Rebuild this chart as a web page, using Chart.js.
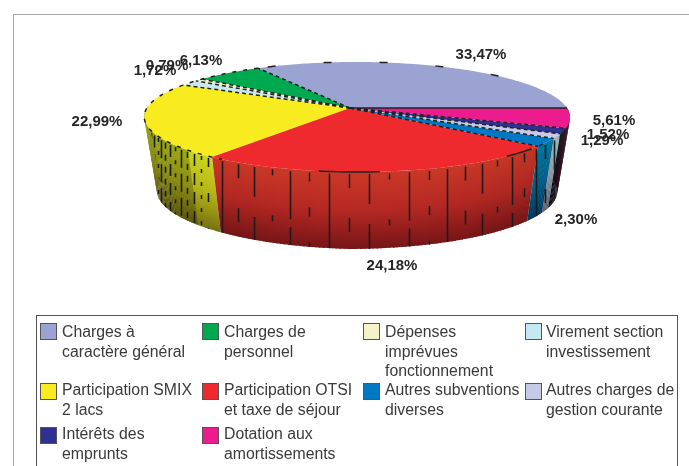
<!DOCTYPE html>
<html>
<head>
<meta charset="utf-8">
<script src="https://cdn.jsdelivr.net/npm/chart.js@4"></script>
<style>
html, body { margin: 0; padding: 0; background: #fff; overflow: hidden; }
#wrap { position: relative; width: 689px; height: 466px; overflow: hidden; }
#chart { position: absolute; left: 0; top: 0; }
.legend-box { position: absolute; left: 36px; top: 315px; width: 642px; height: 160px; border: 1px solid #555; box-sizing: border-box; }
.item { position: absolute; font: 15.8px/19.5px "Liberation Sans", Arial, sans-serif; color: #3a3a3a; white-space: nowrap; }
.swatch { position: absolute; width: 17px; height: 17px; border: 1px solid #555; box-sizing: border-box; }
</style>
</head>
<body>
<div id="wrap">
  <canvas id="chart" width="689" height="466"></canvas>
  <div id="legend"></div>
</div>
<script>
const categories = [
    ['Charges à', 'caractère général'],
    ['Charges de', 'personnel'],
    ['Dépenses', 'imprévues', 'fonctionnement'],
    ['Virement section', 'investissement'],
    ['Participation SMIX', '2 lacs'],
    ['Participation OTSI', 'et taxe de séjour'],
    ['Autres subventions', 'diverses'],
    ['Autres charges de', 'gestion courante'],
    ['Intérêts des', 'emprunts'],
    ['Dotation aux', 'amortissements']
];
const values = [33.47, 6.13, 0.79, 1.72, 22.99, 24.18, 2.30, 1.29, 1.52, 5.61];
const valueLabels = ['33,47%', '6,13%', '0,79%', '1,72%', '22,99%', '24,18%', '2,30%', '1,29%', '1,52%', '5,61%'];
const colors = ['#9aa3d2', '#00a94f', '#f5f3c8', '#c6e8f3', '#f8ec21', '#ee2a2e', '#0079c2', '#c6cae6', '#2e3192', '#ec1c8e'];

// where the percentage labels sit on the page (centre of the text)
const labelSpots = [[481, 55], [201, 61], [167, 66], [155, 71], [97, 122], [392, 266], [576, 220], [602, 141], [608, 135], [614, 121]];
// legend layout
const swatchCols = [40, 202, 363, 525];
const swatchRows = [323, 383, 427];
const textCols = [62, 224, 385, 546];
const textRows = [322, 380, 424];

// top face of the pie as seen in the picture: apex, perspective and radii
const cx = 350, cy = 108;
const a = 209.8, b = 53.5, kv = 0.1636, ku = 0.033;
const depth = 77, shrink = 0.94;

function project(r, ang) {
    const u = r * Math.cos(ang), v = -r * Math.sin(ang);
    const w = 1 - kv * v - ku * u;
    return { x: cx + a * u / w, y: cy + b * v / w };
}

function projectBottom(ang) {
    const p = project(1, ang);
    return { x: 357 + (p.x - 357) * shrink, y: p.y + depth - 3 * Math.abs(Math.cos(ang)) };
}

function shade(hex, f, warm) {
    const n = parseInt(hex.slice(1), 16);
    const c = [n >> 16, (n >> 8) & 255, n & 255].map(v => Math.round(v * f));
    return `rgb(${c[0]},${c[1] + (warm || 0)},${c[2]})`;
}

function strokeRim(ctx, from, to, dash) {
    const step = Math.PI / 180;
    ctx.setLineDash(dash);
    ctx.beginPath();
    for (let t = from, s = 0; t <= to; t += step, s++) {
        const p = project(1, t);
        if (s === 0) ctx.moveTo(p.x, p.y); else ctx.lineTo(p.x, p.y);
    }
    ctx.stroke();
    ctx.setLineDash([]);
}

// Draws the chart's own arcs as a tilted disc with a wall
const pie3d = {
    id: 'pie3d',
    beforeDatasetDraw(chart) {
        const ctx = chart.ctx;
        const arcs = chart.getDatasetMeta(0).data;
        const step = Math.PI / 180;

        // wall first: only the front half shows
        arcs.forEach((arc, i) => {
            const start = arc.startAngle, end = arc.endAngle;
            for (let t = start; t < end; t += step) {
                const t2 = Math.min(t + step * 1.3, end);
                if (Math.sin(t) > 0.02 && Math.sin(t2) > 0.02) continue;
                const p1 = project(1, t), p2 = project(1, t2);
                const q1 = projectBottom(t), q2 = projectBottom(t2);
                const side = 0.84 + 0.16 * Math.sin(-t);
                let light = Math.cos(t) < -0.7 ? 0.78 : 1;
                // the far right of the wall is almost black
                if (Math.cos(t) > 0.9) light = 0.3;
                const g = ctx.createLinearGradient(0, p1.y, 0, q1.y);
                g.addColorStop(0, shade(colors[i], 0.86 * side * light, 20));
                g.addColorStop(0.5, shade(colors[i], 0.76 * side * light, 8));
                g.addColorStop(1, shade(colors[i], 0.5 * side * light));
                ctx.fillStyle = g;
                ctx.beginPath();
                ctx.moveTo(p1.x, p1.y);
                ctx.lineTo(p2.x, p2.y);
                ctx.lineTo(q2.x, q2.y);
                ctx.lineTo(q1.x, q1.y);
                ctx.closePath();
                ctx.fill();
            }
        });

        // broken black upright lines on the wall, closer together on the left
        ctx.save();
        ctx.beginPath();
        for (let t = Math.PI; t <= Math.PI * 2; t += step) {
            const p = project(1, t);
            ctx.lineTo(p.x, p.y);
        }
        for (let t = Math.PI * 2; t >= Math.PI; t -= step) {
            const q = projectBottom(t);
            ctx.lineTo(q.x, q.y);
        }
        ctx.closePath();
        ctx.clip();
        ctx.strokeStyle = '#1c1c1c';
        ctx.lineWidth = 1.6;
        const longDashes = [[48, 8], [9, 26], [76, 4], [14, 30], [30, 20], [6, 40]];
        const shortDashes = [[6, 6], [12, 7], [4, 9], [18, 6]];
        let j = 0;
        let t = Math.PI * 1.02;
        while (t < Math.PI * 1.98) {
            const p = project(1, t);
            const isLeft = Math.cos(t) < -0.62;
            const x = Math.round(p.x) + 0.5;
            ctx.setLineDash(isLeft ? shortDashes[j % 4] : longDashes[j % 6]);
            ctx.beginPath();
            ctx.moveTo(x, p.y + 2);
            ctx.lineTo(x, p.y + depth + 4);
            ctx.stroke();
            t += step * (isLeft ? 2.6 : 4.6);
            j++;
        }
        ctx.setLineDash([]);
        ctx.restore();

        // top face
        arcs.forEach((arc, i) => {
            ctx.fillStyle = colors[i];
            ctx.beginPath();
            const c = project(0, 0);
            ctx.moveTo(c.x, c.y);
            const n = Math.max(2, Math.ceil((arc.endAngle - arc.startAngle) / step));
            for (let s = 0; s <= n; s++) {
                const p = project(1, arc.startAngle + (arc.endAngle - arc.startAngle) * s / n);
                ctx.lineTo(p.x, p.y);
            }
            ctx.closePath();
            ctx.fill();
        });

        // edges between the slices, none between the two big front ones
        ctx.strokeStyle = '#222';
        ctx.lineWidth = 1.5;
        arcs.forEach((arc, i) => {
            if (i === 5) return;
            const c = project(0, 0), p = project(1, arc.startAngle);
            ctx.setLineDash(arc.startAngle < 0.01 ? [] : [4, 3]);
            ctx.beginPath();
            ctx.moveTo(c.x, c.y);
            ctx.lineTo(p.x, p.y);
            ctx.stroke();
        });
        ctx.setLineDash([]);

        // rim marks: sparse over the first slice, tighter from the green one on
        strokeRim(ctx, arcs[0].startAngle + 0.7, arcs[0].endAngle, [8, 48]);
        strokeRim(ctx, arcs[1].startAngle, arcs[4].startAngle + 1.5, [4, 7]);
        strokeRim(ctx, Math.PI * 1.46, Math.PI * 1.54, [72, 30]);
        strokeRim(ctx, Math.PI * 1.72, Math.PI * 1.8, [26, 8]);
        return false;
    },
    afterDraw(chart) {
        const ctx = chart.ctx;
        ctx.font = 'bold 15px "Liberation Sans", Arial, sans-serif';
        ctx.fillStyle = '#262626';
        ctx.textAlign = 'center';
        ctx.textBaseline = 'middle';
        valueLabels.forEach((t, i) => ctx.fillText(t, labelSpots[i][0], labelSpots[i][1]));

        // outer frame
        ctx.strokeStyle = '#a8a8a8';
        ctx.lineWidth = 1;
        ctx.strokeRect(13.5, 14.5, 800, 800);
    }
};

new Chart(document.getElementById('chart'), {
    type: 'pie',
    data: {
        labels: categories.map(c => c.join(' ')),
        datasets: [{ data: values, backgroundColor: colors, borderWidth: 0 }]
    },
    options: {
        responsive: false,
        animation: false,
        rotation: 90,
        plugins: { legend: { display: false }, tooltip: { enabled: false } }
    },
    plugins: [pie3d]
});

// legend
const legend = document.getElementById('legend');
let html = '<div class="legend-box"></div>';
categories.forEach((lines, i) => {
    const col = i % 4, row = Math.floor(i / 4);
    html += `<div class="swatch" style="left:${swatchCols[col]}px;top:${swatchRows[row]}px;background:${colors[i]}"></div>`;
    html += `<div class="item" style="left:${textCols[col]}px;top:${textRows[row]}px">${lines.join('<br>')}</div>`;
});
legend.innerHTML = html;
</script>
</body>
</html>
